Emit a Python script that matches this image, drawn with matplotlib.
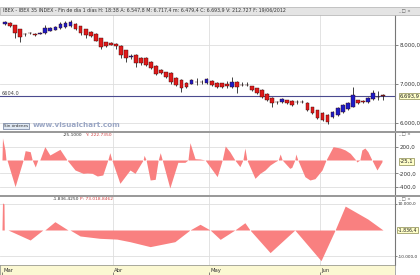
import matplotlib
matplotlib.use("Agg")
import matplotlib.pyplot as plt
import numpy as np
import pandas as pd
from matplotlib.patches import Rectangle

# ---------------- data ----------------
holidays = ["2012-04-06", "2012-04-09", "2012-05-01"]
dates = [d for d in pd.bdate_range("2012-03-01", "2012-06-19") if d.strftime("%Y-%m-%d") not in holidays]

opens = [8538, 8564, 8513, 8410, 8290, 8300, 8285, 8290, 8308, 8370, 8385, 8430, 8455, 8487, 8538, 8487,
         8400, 8340, 8282, 8170, 8070, 8051, 8026, 7974, 7872, 7700, 7744, 7667, 7667, 7564, 7462, 7359,
         7308, 7282, 7154, 7103, 7026, 7000, 7050, 7055, 7026, 7077, 7026, 7020, 6990, 6923, 7051, 6980,
         6975, 6949, 6897, 6846, 6744, 6641, 6530, 6538, 6590, 6564, 6540, 6545, 6513, 6410, 6333, 6256,
         6205, 6154, 6205, 6282, 6359, 6410, 6590, 6564, 6538, 6615, 6670, 6718]
highs = [8615, 8580, 8525, 8420, 8300, 8330, 8300, 8340, 8513, 8450, 8490, 8600, 8620, 8640, 8560, 8500,
         8420, 8350, 8300, 8180, 8080, 8065, 8040, 7990, 7880, 7760, 7760, 7680, 7690, 7580, 7475, 7380,
         7320, 7300, 7170, 7120, 7040, 7120, 7150, 7110, 7150, 7090, 7040, 7030, 7070, 7179, 7070, 7050,
         7040, 6960, 6910, 6860, 6760, 6655, 6570, 6630, 6600, 6580, 6600, 6580, 6530, 6420, 6345, 6270,
         6220, 6300, 6400, 6480, 6530, 6923, 6600, 6580, 6660, 6846, 6820, 6740]
lows = [8513, 8470, 8179, 8077, 8240, 8290, 8240, 8280, 8290, 8360, 8375, 8420, 8440, 8470, 8395, 8256,
        8180, 8200, 8090, 7897, 7960, 7990, 7897, 7667, 7564, 7650, 7436, 7487, 7460, 7390, 7230, 7250,
        7150, 7000, 6950, 6795, 6900, 6990, 6980, 7000, 7000, 6950, 6900, 6910, 6900, 6910, 6769, 6940,
        6950, 6830, 6750, 6640, 6570, 6410, 6500, 6520, 6500, 6440, 6500, 6510, 6300, 6230, 6100, 6050,
        5974, 6130, 6190, 6260, 6340, 6400, 6500, 6510, 6520, 6600, 6590, 6600]
closes = [8590, 8487, 8308, 8200, 8270, 8315, 8260, 8320, 8436, 8436, 8470, 8538, 8570, 8590, 8410, 8315,
          8256, 8231, 8110, 7956, 7982, 8000, 7974, 7744, 7667, 7720, 7538, 7538, 7487, 7410, 7256, 7282,
          7179, 7051, 6974, 6897, 6923, 7103, 7060, 7045, 7128, 6974, 6923, 6930, 6950, 7051, 6923, 6970,
          6980, 6846, 6769, 6667, 6590, 6513, 6545, 6615, 6513, 6462, 6535, 6535, 6333, 6256, 6128, 6077,
          6026, 6282, 6385, 6462, 6513, 6718, 6513, 6530, 6641, 6769, 6660, 6694]

last_close = 6693.9
ref_level_label = "6604.0"
price_ticks = [8000, 7000, 6000]
price_tick_labels = ["8.000,0", "7.000,0", "6.000,0"]

# oscillator 1 (pivot positions in bar units, values)
osc1_x = [-0.6, -0.5, 0.0, 0.2, 0.4, 2.0, 3.6, 4.0, 5.0, 5.4, 6.0, 6.5, 6.9, 7.9, 8.9, 10.9, 12.3, 13.9,
          15.5, 16.3, 17.3, 18.3, 19.4, 20.4, 20.8, 21.2, 22.8, 24.8, 25.8, 27.4, 27.6, 28.0, 28.8, 29.8,
          30.4, 30.8, 31.2, 32.7, 34.3, 35.7, 36.3, 36.7, 37.7, 38.7, 39.7, 42.1, 43.1, 43.7, 44.6, 45.6,
          46.6, 47.2, 47.6, 48.0, 49.6, 50.6, 51.6, 52.6, 53.6, 54.2, 54.6, 55.0, 56.5, 56.9, 57.5, 57.7,
          58.1, 59.5, 60.5, 61.5, 62.9, 63.7, 65.1, 66.5, 67.5, 68.5, 69.6, 69.8, 70.4, 70.8, 71.4, 72.0,
          72.8, 73.8, 74.8]
osc1_v = [0, 330, 150, 0, 0, -400, 0, 140, 125, 0, -105, 0, 0, 200, 75, 160, 0, -150,
          -200, -195, -200, -240, -225, 0, 110, 0, -350, -150, -200, 0, 70, 0, -300, -290,
          0, 110, 0, -420, -35, -35, 0, 260, 20, 15, 0, -250, 0, 210, 125, 0,
          -100, 0, 180, 0, -275, -200, -150, -75, -25, 0, 90, 0, -125, -110, 0, 90,
          0, -250, -300, -280, -150, 0, 200, 180, 150, 100, 0, -30, 0, 150, 180, 125,
          0, -150, -25]
osc1_ticks = [200, -200, -400]
osc1_tick_labels = ["200,0", "-200,0", "-400,0"]

# oscillator 2
osc2_x = [-0.6, -0.5, -0.2, -0.15, 0.6, 5.0, 7.5, 7.9, 9.9, 12.5, 12.9, 14.9, 18.8, 22.2, 24.8, 28.8,
          33.7, 36.7, 38.7, 40.7, 42.7, 45.6, 47.6, 48.6, 52.6, 57.5, 62.7, 65.5, 67.5, 72.0, 75.0]
osc2_v = [0, 10400, 10000, 0, 0, -3850, 0, 0, 3200, 0, 0, -2300, -3200, -3500, -4500, -6400,
          -4500, 0, 2200, 0, -3600, 0, 2800, 0, -8700, 0, -11800, 0, 9200, 4200, 0]
osc2_ticks = [10000, -10000]
osc2_tick_labels = ["10.000,0", "-10.000,0"]

month_labels = ["Mar", "Abr", "May", "Jun"]

# ---------------- figure ----------------
W, H = 420, 275
fig = plt.figure(figsize=(W / 100, H / 100), dpi=100)
fig.patch.set_facecolor("white")

def fbox(x0, y0, x1, y1):
    return [x0 / W, 1 - y1 / H, (x1 - x0) / W, (y1 - y0) / H]

AXR = 395
n = len(closes)
xs = np.arange(n)
px_per_bar = 5.04
xl = (-5 / px_per_bar, (AXR - 5) / px_per_bar)

# month boundaries
month_pos = []
prev = None
for i, d in enumerate(dates):
    if d.month != prev:
        month_pos.append(i - 0.5)
        prev = d.month

grid_c = "#dedede"
lab_c = "#333333"
box_kw = dict(boxstyle="square,pad=0.15", fc="#ffffc8", ec="#8a8a50", lw=0.5)

def style_axis(ax, yticks, ylabels, fs=4.0, tl=2, pad=1):
    ax.set_xlim(*xl)
    ax.yaxis.tick_right()
    ax.set_yticks(yticks)
    ax.set_yticklabels(ylabels, fontsize=fs, color=lab_c)
    ax.tick_params(axis="y", length=tl, width=0.5, pad=pad, colors="#555555", labelcolor=lab_c)
    ax.set_xticks([])
    for yv in yticks:
        ax.axhline(yv, color=grid_c, lw=0.6, zorder=0)
    for mp in month_pos[1:]:
        ax.axvline(mp, color=grid_c, lw=0.6, zorder=0)
    for s in ["left", "top", "bottom"]:
        ax.spines[s].set_visible(False)
    ax.spines["right"].set_color("#777777")
    ax.spines["right"].set_linewidth(0.8)

# price panel
ax1 = fig.add_axes(fbox(0, 15, AXR, 131))
y_top = 8000 + (45 - 15) * 1000 / 39
y_bot = 8000 + (45 - 131) * 1000 / 39
ax1.set_ylim(y_bot, y_top)
style_axis(ax1, price_ticks, price_tick_labels)

o = np.array(opens, float); c = np.array(closes, float)
hi = np.array(highs, float); lo = np.array(lows, float)
up = c >= o
body_lo = np.minimum(o, c)
body_h = np.maximum(np.abs(c - o), 12)
ax1.vlines(xs, lo, hi, color="#222222", lw=0.6, zorder=2)
cols = np.where(up, "#1c1cc8", "#e01a1a")
cols[-1] = "#9a2020"
ax1.bar(xs, body_h, bottom=body_lo, width=0.74, color=cols, edgecolor="#3a0a0a", linewidth=0.3, zorder=3)
ax1.axhline(last_close, color="#4b4b8f", lw=0.8, zorder=1)
ax1.text(0.004, last_close, ref_level_label, transform=ax1.get_yaxis_transform(), fontsize=3.6,
         color="#444444", va="bottom", ha="left")
ax1.text(1.012, last_close, "6.693,9", transform=ax1.get_yaxis_transform(), fontsize=3.8, color="#222222",
         va="center", ha="left", bbox=box_kw, clip_on=False)

# osc 1 panel
ax2 = fig.add_axes(fbox(0, 133, AXR, 195))
ax2.set_ylim((160 - 195) * 15, (160 - 133) * 15)
style_axis(ax2, osc1_ticks, osc1_tick_labels)
ax2.fill_between(osc1_x, osc1_v, 0, color="#f98080", lw=0, interpolate=True, zorder=2)
ax2.text(1.012, osc1_v[-1], "-25,1", transform=ax2.get_yaxis_transform(), fontsize=3.8, color="#222222",
         va="center", ha="left", bbox=box_kw, clip_on=False)

# osc 2 panel
ax3 = fig.add_axes(fbox(0, 197, AXR, 265))
ax3.set_ylim((230 - 265) * 384.6, (230 - 197) * 384.6)
style_axis(ax3, osc2_ticks, osc2_tick_labels, fs=3.1, tl=1.5, pad=0.5)
ax3.fill_between(osc2_x, osc2_v, 0, color="#f98080", lw=0, interpolate=True, zorder=2)
ax3.text(1.008, 0, "-1.836,4", transform=ax3.get_yaxis_transform(), fontsize=3.3, color="#222222",
         va="center", ha="left", bbox=box_kw, clip_on=False)

# bottom date band
axb = fig.add_axes(fbox(0, 265, AXR, 275))
axb.set_facecolor("#fbf8d2")
axb.set_xlim(*xl)
axb.set_ylim(0, 1)
axb.set_yticks([])
axb.set_xticks(month_pos)
axb.set_xticklabels([])
axb.tick_params(axis="x", direction="in", length=2, width=0.5, colors="#555555")
for mp, lab in zip(month_pos, month_labels):
    axb.text(mp + 0.2, 0.45, lab, fontsize=3.8, color="#333333", va="center", ha="left")
for s in axb.spines.values():
    s.set_color("#888888"); s.set_linewidth(0.5)

# header bar and separators (figure-level decorations)
fig.patches.append(Rectangle((0, 1 - 15 / H), 1, 8 / H, transform=fig.transFigure,
                             fc="#e4e4e4", ec="#b0b0b0", lw=0.5))
fig.text(3 / W, 1 - 11 / H,
         "IBEX - IBEX 35 INDEX - Fin de día 1 días H: 18:38 A: 6.547,8 M: 6.717,4 m: 6.479,4 C: 6.693,9 V: 212.727 F: 19/06/2012",
         fontsize=3.4, color="#333333", va="center", ha="left")
for ysep in (131.5, 196):
    fig.patches.append(Rectangle((0, 1 - (ysep + 1) / H), 1, 1.6 / H, transform=fig.transFigure,
                                 fc="#9a9a9a", ec="none"))
for yi in (11, 134, 199):
    fig.text(398 / W, 1 - yi / H, "_ □ ×", fontsize=3.2, color="#555555", va="center", ha="left")

# Sin ordenes button + watermark
fig.text(4 / W, 1 - 126 / H, "Sin órdenes", fontsize=3.0, color="#333333", va="center", ha="left",
         bbox=dict(boxstyle="square,pad=0.2", fc="#dfe8f3", ec="#6a7a9a", lw=0.5))
fig.text(33 / W, 1 - 125.5 / H, "www.visualchart.com", fontsize=5.2, color="#9aa6c4", va="center",
         ha="left", fontweight="bold")

fig.text(63 / W, 1 - 135.5 / H, "-25.1000", fontsize=3.2, color="#333333", va="center", ha="left")
fig.text(86 / W, 1 - 135.5 / H, "Y: 222.7350", fontsize=3.2, color="#d04040", va="center", ha="left")
fig.text(53 / W, 1 - 199.5 / H, "-1.836.4250", fontsize=3.2, color="#333333", va="center", ha="left")
fig.text(80 / W, 1 - 199.5 / H, "P: 73.018.8462", fontsize=3.2, color="#d04040", va="center", ha="left")

fig.savefig("out.png", dpi=100)
